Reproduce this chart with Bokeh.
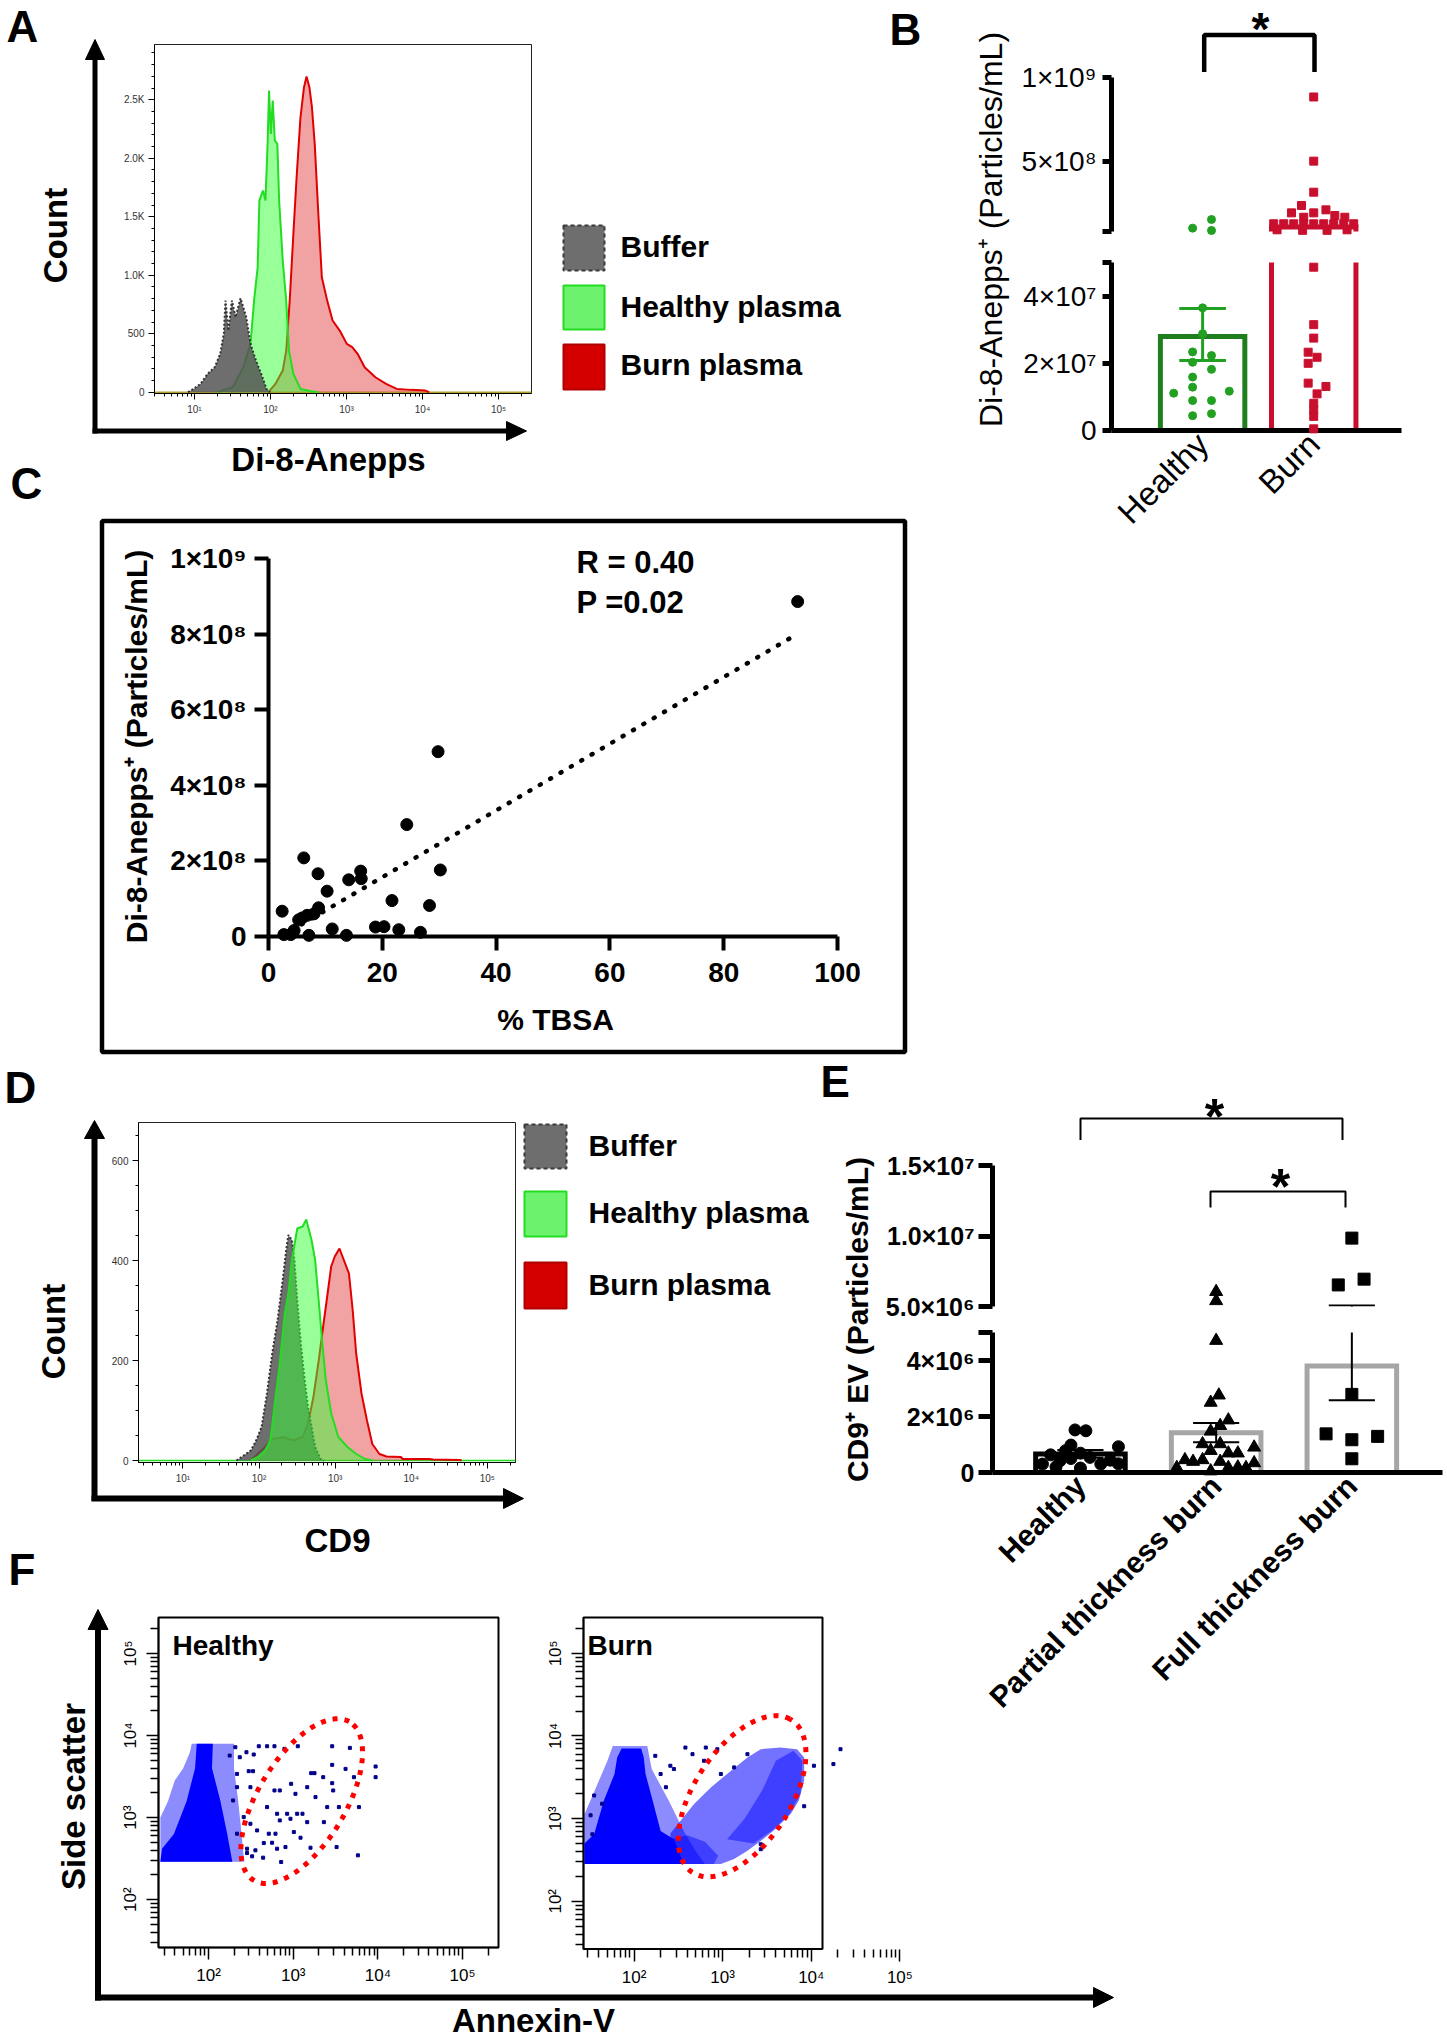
import math
from bokeh.plotting import figure
from bokeh.models import Range1d, FixedTicker
from bokeh.core.properties import value
from bokeh.embed import file_html
from bokeh.resources import INLINE

# ======================= DATA =======================
# A: Di-8-Anepps histograms (fluorescence intensity, event count)
a_buffer_x = [8.22, 9.68, 12.0, 14.9, 18.5, 21.8, 24.3, 25.6, 27.9, 31.1, 34.7, 40.4, 48.0, 54.6, 64.3, 75.5, 88.7, 98.9]
a_buffer_n = [0, 28, 71, 157, 214, 328, 499, 783, 527, 783, 641, 803, 641, 413, 271, 157, 28, 0]
a_healthy_x = [20.0, 23.0, 31.8, 44.0, 54.6, 60.8, 67.8, 71.4, 79.6, 85.9, 91.6, 95.7, 101, 107, 114, 123, 130, 145, 161, 175, 200, 248, 343, 426]
a_healthy_n = [0, 14, 43, 214, 413, 783, 1068, 1638, 1724, 1638, 2123, 2578, 2208, 2493, 2151, 2123, 1638, 1125, 783, 356, 157, 28, 9, 0]
a_burn_x = [93.8, 116, 145, 161, 179, 200, 222, 248, 276, 298, 325, 351, 382, 426, 474, 557, 656, 815, 1010, 1190, 1400, 1730, 2400, 3320, 4590, 7080, 10900, 12200]
a_burn_n = [0, 71, 185, 356, 783, 1353, 1866, 2350, 2607, 2698, 2607, 2436, 2123, 1524, 983, 783, 613, 527, 413, 385, 328, 214, 128, 71, 28, 20, 14, 0]
a_count_ticks = [0, 500, 1000, 1500, 2000, 2500]
a_count_labels = ["0", "500", "1.0K", "1.5K", "2.0K", "2.5K"]

# B: Di-8-Anepps+ particles/mL
b_groups = ["Healthy", "Burn"]
b_mean = [2.80e7, 1.10e8]
b_err_lo = [2.08e7]          # healthy SEM lower end
b_err_hi = [3.63e7]          # healthy SEM upper end
b_healthy_vals = [1.03e8, 1.545e8, 0.89e8, 3.65e7, 2.88e7, 2.34e7, 2.23e7, 2.03e7, 1.82e7, 1.59e7, 1.29e7,
                  1.11e7, 1.17e7, 8.9e6, 8.9e6, 4.4e6, 5.0e6]
b_healthy_jit = [-0.09, 0.08, 0.08, 0.0, 0.0, -0.09, 0.08, -0.09, 0.08, -0.09, -0.09, -0.26, 0.24, -0.09, 0.08, -0.09, 0.08]
b_burn_vals = [8.84e8, 5.02e8, 3.17e8, 2.38e8, 2.12e8, 1.94e8, 1.94e8, 1.78e8, 1.68e8, 1.68e8,
               1.29e8, 1.29e8, 1.29e8, 1.29e8, 1.29e8, 1.29e8, 1.29e8, 1.29e8, 1.29e8,
               0.93e8, 0.90e8, 0.90e8, 0.93e8,
               4.86e7, 3.15e7, 2.75e7, 2.33e7, 2.18e7, 2.00e7, 1.41e7, 1.31e7, 1.09e7, 8.1e6, 6.2e6, 4.2e6, 0.5e6]
b_burn_jit = [0, 0, 0, -0.11, 0.11, -0.20, 0.0, 0.19, 0.28, -0.09,
              -0.36, -0.27, -0.18, -0.09, 0.0, 0.09, 0.18, 0.27, 0.36,
              -0.33, -0.10, 0.12, 0.30,
              0, 0, 0, -0.05, 0.03, -0.05, -0.05, 0.11, 0.03, 0, 0, 0, 0]

# C: correlation with %TBSA
c_tbsa = [93.0, 29.8, 24.3, 30.2, 6.2, 8.7, 14.1, 16.2, 16.3, 10.3, 2.4, 8.8, 8.0, 5.9,
          7.1, 4.5, 11.2, 13.7, 18.8, 20.3, 21.7, 22.9, 26.7, 28.3, 2.7, 5.3, 6.8, 3.9]
c_particles = [8.86e8, 4.89e8, 2.96e8, 1.76e8, 2.08e8, 1.66e8, 1.50e8, 1.73e8, 1.53e8, 1.20e8, 0.67e8, 0.76e8, 0.60e8, 0.49e8,
               0.03e8, 0.16e8, 0.20e8, 0.03e8, 0.25e8, 0.26e8, 0.95e8, 0.18e8, 0.11e8, 0.82e8, 0.05e8, 0.44e8, 0.56e8, 0.05e8]
c_fit_slope = 8.82e6
c_fit_intercept = -1.94e7
c_fit_x = [2.2, 91.8]
c_r_text = "R = 0.40"
c_p_text = "P =0.02"

# D: CD9 histograms
d_buffer_x = [50.6, 62.8, 78.0, 91.6, 108, 127, 149, 175, 207, 230, 243, 270, 292, 318, 354, 394, 440, 490, 546, 643, 714]
d_buffer_n = [0, 10, 20, 40, 67, 134, 214, 280, 367, 427, 451, 441, 401, 320, 234, 167, 107, 67, 27, 3, 0]
d_healthy_x = [78.0, 96.8, 120, 141, 157, 185, 218, 243, 270, 318, 374, 417, 490, 546, 608, 678, 755, 887, 1100, 1450, 1890, 2480, 3080]
d_healthy_n = [0, 7, 20, 40, 100, 187, 294, 334, 401, 464, 468, 482, 441, 401, 320, 234, 160, 94, 47, 27, 13, 3, 0]
d_burn_x = [78.0, 120, 149, 207, 285, 374, 440, 518, 608, 714, 796, 887, 989, 1140, 1300, 1520, 1700, 1890, 2220, 2620,
            3080, 3820, 4740, 7310, 7710, 17300, 19300, 43400, 45900]
d_burn_n = [0, 27, 43, 47, 40, 47, 74, 127, 200, 281, 334, 388, 408, 424, 401, 374, 301, 214, 134, 80,
            33, 13, 8, 7, 3, 3, 2, 1, 0]

# E: CD9+ EV particles/mL
e_groups = ["Healthy", "Partial thickness burn", "Full thickness burn"]
e_mean = [0.66e6, 1.42e6, 3.80e6]
e_err_lo = [0.53e6, 1.08e6, 2.58e6]
e_err_hi = [0.80e6, 1.77e6, 5.07e6]
e_healthy_vals = [1.52e6, 1.49e6, 0.98e6, 0.92e6, 0.78e6, 0.69e6, 0.63e6, 0.54e6, 0.50e6, 0.44e6, 0.42e6, 0.31e6, 0.30e6, 0.30e6, 0.16e6, 0.20e6]
e_healthy_jit = [-0.04, 0.04, -0.07, 0.28, -0.11, 0.0, -0.22, 0.07, -0.07, 0.22, -0.15, 0.28, 0.15, -0.28, 0.0, -0.18]
e_partial_vals = [6.05e6, 5.40e6, 4.71e6, 2.76e6, 2.50e6, 1.87e6, 1.67e6, 1.47e6, 1.02e6, 1.02e6, 0.78e6, 0.69e6,
                  0.69e6, 0.90e6, 0.45e6, 0.39e6, 0.45e6, 0.39e6, 0.34e6, 0.17e6, 0.17e6, 0.19e6, 0.17e6, 0.05e6]
e_partial_jit = [0.0, 0.0, 0.0, 0.02, -0.04, 0.09, 0.03, -0.04, -0.10, 0.03, -0.04, 0.09,
                 0.16, 0.28, -0.23, -0.17, -0.10, 0.03, 0.28, -0.29, 0.09, 0.16, 0.22, -0.04]
e_full_vals = [9.85e6, 6.53e6, 6.94e6, 2.79e6, 1.38e6, 1.17e6, 1.29e6, 0.49e6]
e_full_jit = [0.0, -0.10, 0.09, 0.0, -0.19, 0.0, 0.19, 0.0]

# F: Annexin-V vs side scatter (log10 units)
f_h_core_x = [1.43, 1.45, 1.59, 1.74, 1.84, 1.86, 2.05, 2.04, 2.14, 2.22, 2.28]
f_h_core_y = [2.46, 2.62, 2.80, 3.20, 3.60, 3.90, 3.90, 3.60, 3.20, 2.80, 2.46]
f_h_halo_x = [1.43, 1.43, 1.52, 1.60, 1.70, 1.78, 1.80, 2.30, 2.30, 2.35, 2.38, 2.42]
f_h_halo_y = [2.46, 3.00, 3.20, 3.45, 3.60, 3.80, 3.90, 3.90, 3.60, 3.20, 2.90, 2.46]
f_h_dot_x = [2.316, 2.447, 2.593, 2.691, 2.778, 2.896, 3.054, 3.460, 3.669, 3.973, 3.973, 2.533, 2.336, 2.474, 2.525, 2.336,
             2.494, 2.778, 2.841, 3.026, 2.975, 3.212, 3.251, 3.460, 3.354, 3.165, 3.263, 3.460, 3.472, 3.618, 3.717, 3.401,
             3.539, 3.776, 2.691, 2.809, 2.928, 2.841, 3.046, 3.109, 2.967, 3.165, 3.362, 2.711, 2.790, 3.007, 3.086, 2.652,
             2.750, 2.809, 2.908, 2.454, 2.553, 2.514, 2.644, 2.454, 2.857, 3.204, 3.512, 3.764, 2.368, 2.249, 2.289, 2.336,
             2.415, 2.494, 2.573]
f_h_dot_y = [3.857, 3.796, 3.869, 3.869, 3.869, 3.837, 3.869, 3.869, 3.849, 3.622, 3.492, 3.768, 3.532, 3.565, 3.565, 3.370,
             3.370, 3.330, 3.330, 3.289, 3.411, 3.541, 3.541, 3.642, 3.492, 3.370, 3.249, 3.419, 3.330, 3.593, 3.492, 3.127,
             3.127, 3.127, 3.127, 3.046, 3.046, 2.965, 3.046, 3.046, 2.985, 2.944, 2.944, 2.803, 2.803, 2.823, 2.754, 2.689,
             2.693, 2.620, 2.640, 2.620, 2.600, 2.527, 2.511, 2.567, 2.458, 2.632, 2.640, 2.539, 3.735, 3.755, 3.208, 2.803,
             3.005, 2.924, 2.843]
f_b_core_x = [1.44, 1.44, 1.55, 1.66, 1.78, 1.81, 1.86, 2.08, 2.11, 2.13, 2.21, 2.30, 2.45, 2.56]
f_b_core_y = [2.45, 2.70, 2.81, 3.22, 3.54, 3.74, 3.85, 3.85, 3.74, 3.54, 3.22, 2.85, 2.75, 2.45]
f_b_halo_x = [1.44, 1.44, 1.52, 1.60, 1.70, 1.76, 2.15, 2.20, 2.30, 2.40, 2.56, 2.70, 2.80]
f_b_halo_y = [2.45, 3.05, 3.25, 3.45, 3.70, 3.88, 3.88, 3.60, 3.40, 3.20, 2.85, 2.60, 2.45]
f_b_pop_x = [2.41, 2.41, 2.53, 2.68, 2.87, 3.05, 3.28, 3.43, 3.65, 3.84, 3.92, 3.92, 3.86, 3.77, 3.58, 3.43, 3.28, 3.13, 2.98]
f_b_pop_y = [2.45, 2.82, 2.98, 3.18, 3.38, 3.54, 3.74, 3.84, 3.86, 3.84, 3.74, 3.46, 3.22, 3.06, 2.86, 2.73, 2.61, 2.51, 2.45]
f_b_dense_x = [3.05, 3.25, 3.45, 3.60, 3.80, 3.90, 3.88, 3.75, 3.55, 3.35]
f_b_dense_y = [2.75, 3.00, 3.35, 3.70, 3.82, 3.70, 3.30, 3.05, 2.85, 2.70]
f_b_dense2_x = [2.41, 2.41, 2.60, 2.80, 2.95, 2.90, 2.70]
f_b_dense2_y = [2.45, 2.75, 2.80, 2.72, 2.55, 2.45, 2.45]
f_b_dot_x = [4.33, 4.25, 3.92, 4.03, 2.58, 2.81, 2.45, 2.36, 2.66, 2.94, 3.13, 2.98, 3.28, 2.79, 3.43, 3.43, 2.24, 2.41, 2.30, 1.55, 1.64, 1.51, 1.53]
f_b_dot_y = [3.84, 3.66, 3.15, 3.64, 3.86, 3.86, 3.60, 3.38, 3.78, 3.84, 3.62, 3.54, 3.78, 3.70, 2.69, 2.63, 3.76, 3.64, 3.54, 3.28, 3.18, 3.04, 2.81]
f_h_gate = (3.10, 3.20, 1.12, 0.52, 60.0)   # centre x, centre y, semi-axes, angle (log10 units)
f_b_gate = (3.22, 3.27, 1.08, 0.55, 60.0)

POW = {10: "10¹", 100: "10²", 1000: "10³", 10000: "10⁴", 100000: "10⁵"}

# ======================= STYLE / LAYOUT =======================
FONT = "Liberation Sans"
W, H = 1446, 2038
HEALTHY_FILL, HEALTHY_LINE = "#33ff33", "#22dd22"
BURN_FILL, BURN_LINE = "#e03030", "#e00000"
BUF_FILL, BUF_LINE = "#555555", "#333333"
DECADES = [10, 100, 1000, 10000, 100000]
MINOR_LOG = [m * 10 ** k for k in range(0, 6) for m in range(2, 10)]
POS = {"position": "absolute", "left": "0px", "top": "0px"}


def panel(L, T, R, B, xr, yr, xt="linear", yt="linear"):
    p = figure(width=W, height=H, x_range=xr, y_range=yr, x_axis_type=xt, y_axis_type=yt,
               output_backend="svg", toolbar_location=None, styles=POS,
               min_border_left=int(round(L)), min_border_right=int(round(W - R)),
               min_border_top=int(round(T)), min_border_bottom=int(round(H - B)))
    p.background_fill_color = None
    p.border_fill_color = None
    p.outline_line_color = None
    p.xgrid.visible = False
    p.ygrid.visible = False
    return p


def style_axis(ax, size, bold=False, lw=1.0, tout=6, mout=3, standoff=4, color="black", orient=None):
    ax.axis_line_color = "black"
    ax.axis_line_width = lw
    ax.major_tick_line_color = "black"
    ax.major_tick_line_width = lw
    ax.minor_tick_line_color = "black"
    ax.minor_tick_line_width = lw
    ax.major_tick_in = 0
    ax.major_tick_out = tout
    ax.minor_tick_in = 0
    ax.minor_tick_out = mout
    ax.major_label_text_font = FONT
    ax.major_label_text_font_size = f"{size}px"
    ax.major_label_text_font_style = "bold" if bold else "normal"
    ax.major_label_text_color = color
    ax.major_label_standoff = standoff
    if orient is not None:
        ax.major_label_orientation = orient


def hist(p, x, n, fill, alpha, line, dash="solid"):
    p.varea(x=x, y1=0, y2=n, fill_color=fill, fill_alpha=alpha)
    p.line(x, n, line_color=line, line_width=2, line_dash=dash)


def bar_outlines(p, xs, tops, width, colors, lw, lo):
    X, Y, C = [], [], []
    for x, t, c in zip(xs, tops, colors):
        if t > lo:
            X.append([x - width / 2, x - width / 2, x + width / 2, x + width / 2])
            Y.append([0, t, t, 0])
            C.append(c)
    if X:
        p.multi_line(X, Y, line_color=C, line_width=lw, line_join="miter")


figs = []

# ---------- decorations (page-pixel overlay) ----------
pd = figure(width=W, height=H, x_range=Range1d(0, W), y_range=Range1d(H, 0),
            output_backend="svg", toolbar_location=None, x_axis_location=None, y_axis_location=None,
            min_border_left=0, min_border_right=0, min_border_top=0, min_border_bottom=0, styles=POS)
pd.background_fill_color = None
pd.border_fill_color = None
pd.outline_line_color = None
pd.grid.visible = False
figs.append(pd)

# ---------- A ----------
a_xr = Range1d(10 ** 0.474, 10 ** 5.434)
pA = panel(154, 44, 531, 393, a_xr, Range1d(-11, 2972), xt="log")
pA.outline_line_color = "#222222"
pA.xaxis.ticker = FixedTicker(ticks=DECADES, minor_ticks=MINOR_LOG)
pA.xaxis.major_label_overrides = POW
pA.yaxis.ticker = FixedTicker(ticks=a_count_ticks, minor_ticks=list(range(100, 3000, 100)))
pA.yaxis.major_label_overrides = dict(zip(a_count_ticks, a_count_labels))
style_axis(pA.xaxis, 10, color="#333333")
style_axis(pA.yaxis, 10, color="#333333")
pA.line([a_xr.start, a_xr.end], [0, 0], line_color="#b0a030", line_width=1.5)
hist(pA, a_burn_x, a_burn_n, BURN_FILL, 0.45, BURN_LINE)
hist(pA, a_healthy_x, a_healthy_n, HEALTHY_FILL, 0.5, HEALTHY_LINE)
hist(pA, a_buffer_x, a_buffer_n, BUF_FILL, 0.85, BUF_LINE, "2 2")
figs.append(pA)

# ---------- B (broken y axis: two stacked frames) ----------
b_xr = Range1d(-0.82, 1.79)
pBu = panel(1111, 77, 1401, 231, b_xr, Range1d(8.3e7, 1e9))
pBl = panel(1111, 262, 1401, 430, b_xr, Range1d(0, 5e7))
B_GREEN_BAR, B_GREEN, B_RED = "#1f7f1f", "#22a022", "#c8102e"
for p, lo, hi in ((pBu, 8.3e7, 1e9), (pBl, 0, 5e7)):
    bar_outlines(p, [0, 1], b_mean, 0.76, [B_GREEN_BAR, B_RED], 5, lo)
    hx = [j for v, j in zip(b_healthy_vals, b_healthy_jit) if lo <= v <= hi]
    hy = [v for v in b_healthy_vals if lo <= v <= hi]
    p.scatter(hx, hy, size=8, color=B_GREEN, level="overlay")
    bx = [1 + j for v, j in zip(b_burn_vals, b_burn_jit) if lo <= v <= hi]
    by = [v for v in b_burn_vals if lo <= v <= hi]
    p.scatter(bx, by, marker="square", size=8, color=B_RED, level="overlay")
pBl.segment(x0=[0], y0=b_err_lo, x1=[0], y1=b_err_hi, line_color=B_GREEN, line_width=3)
pBl.segment(x0=[-0.21, -0.21], y0=[b_err_lo[0], b_err_hi[0]], x1=[0.21, 0.21], y1=[b_err_lo[0], b_err_hi[0]],
            line_color=B_GREEN, line_width=3)
pBu.xaxis.visible = False
pBu.yaxis.ticker = FixedTicker(ticks=[8.3e7, 5e8, 1e9])
pBu.yaxis.major_label_overrides = {8.3e7: "", 5e8: "5×10⁸", 1e9: "1×10⁹"}
pBl.yaxis.ticker = FixedTicker(ticks=[0, 2e7, 4e7, 5e7])
pBl.yaxis.major_label_overrides = {0: "0", 2e7: "2×10⁷", 4e7: "4×10⁷", 5e7: ""}
pBl.xaxis.ticker = FixedTicker(ticks=[0, 1])
pBl.xaxis.major_label_overrides = {0: b_groups[0], 1: b_groups[1]}
for p in (pBu, pBl):
    style_axis(p.yaxis, 28, lw=5, tout=9, standoff=6)
style_axis(pBl.xaxis, 33, lw=5, tout=0, standoff=8, orient=math.pi / 4)
figs += [pBu, pBl]

# ---------- C ----------
pC = panel(268, 558, 837, 936, Range1d(0, 100), Range1d(0, 1e9))
pC.xaxis.ticker = FixedTicker(ticks=[0, 20, 40, 60, 80, 100])
pC.yaxis.ticker = FixedTicker(ticks=[0, 2e8, 4e8, 6e8, 8e8, 1e9])
pC.yaxis.major_label_overrides = {0: "0", 2e8: "2×10⁸", 4e8: "4×10⁸", 6e8: "6×10⁸", 8e8: "8×10⁸", 1e9: "1×10⁹"}
style_axis(pC.xaxis, 28, bold=True, lw=4, tout=14, standoff=12)
style_axis(pC.yaxis, 28, bold=True, lw=4, tout=14, standoff=8)
pC.line(c_fit_x, [c_fit_intercept + c_fit_slope * x for x in c_fit_x], line_color="black", line_width=4.5,
        line_dash="1 11", line_cap="round")
pC.scatter(c_tbsa, c_particles, size=12, color="black", level="overlay")
figs.append(pC)

# ---------- D ----------
d_xr = Range1d(10 ** 0.416, 10 ** 5.37)
pD = panel(137.5, 1122, 515, 1462, d_xr, Range1d(-4, 676), xt="log")
pD.outline_line_color = "#222222"
pD.xaxis.ticker = FixedTicker(ticks=DECADES, minor_ticks=MINOR_LOG)
pD.xaxis.major_label_overrides = POW
pD.yaxis.ticker = FixedTicker(ticks=[0, 200, 400, 600], minor_ticks=list(range(50, 700, 50)))
style_axis(pD.xaxis, 10, color="#333333")
style_axis(pD.yaxis, 10, color="#333333")
pD.line([d_xr.start, d_xr.end], [0, 0], line_color=HEALTHY_LINE, line_width=1.5)
hist(pD, d_burn_x, d_burn_n, BURN_FILL, 0.45, BURN_LINE)
hist(pD, d_buffer_x, d_buffer_n, BUF_FILL, 0.85, BUF_LINE, "2 2")
hist(pD, d_healthy_x, d_healthy_n, HEALTHY_FILL, 0.5, HEALTHY_LINE)
figs.append(pD)

# ---------- E (broken y axis) ----------
e_xr = Range1d(-0.648, 2.668)
pEu = panel(992, 1165, 1442, 1305.5, e_xr, Range1d(5e6, 1.5e7))
pEl = panel(992, 1332, 1442, 1472, e_xr, Range1d(0, 5e6))
E_GRAY = "#a6a6a6"
markers = [("circle", e_healthy_vals, e_healthy_jit, 12), ("triangle", e_partial_vals, e_partial_jit, 13),
           ("square", e_full_vals, e_full_jit, 12)]
for p, lo, hi in ((pEu, 5e6, 1.5e7), (pEl, 0, 5e6)):
    bar_outlines(p, [0, 1, 2], e_mean, 0.66, ["black", E_GRAY, E_GRAY], 5, lo)
    vx = [i for i in range(3) if e_err_hi[i] > lo]
    if vx:
        p.segment(x0=vx, y0=[e_err_lo[i] for i in vx], x1=vx, y1=[e_err_hi[i] for i in vx],
                  line_color="black", line_width=2)
    caps = [(i, v) for i in range(3) for v in (e_err_lo[i], e_err_hi[i]) if lo <= v <= hi]
    p.segment(x0=[i - 0.17 for i, v in caps], y0=[v for i, v in caps], x1=[i + 0.17 for i, v in caps],
              y1=[v for i, v in caps], line_color="black", line_width=2)
    for gi, (mk, vals, jit, sz) in enumerate(markers):
        xs = [gi + j for v, j in zip(vals, jit) if lo <= v <= hi]
        ys = [v for v in vals if lo <= v <= hi]
        p.scatter(xs, ys, marker=mk, size=sz, color="black", level="overlay")
pEu.xaxis.visible = False
pEu.yaxis.ticker = FixedTicker(ticks=[5e6, 1e7, 1.5e7])
pEu.yaxis.major_label_overrides = {5e6: "5.0×10⁶", 1e7: "1.0×10⁷", 1.5e7: "1.5×10⁷"}
pEl.yaxis.ticker = FixedTicker(ticks=[0, 2e6, 4e6, 5e6])
pEl.yaxis.major_label_overrides = {0: "0", 2e6: "2×10⁶", 4e6: "4×10⁶", 5e6: ""}
pEl.xaxis.ticker = FixedTicker(ticks=[0, 1, 2])
pEl.xaxis.major_label_overrides = {i: g for i, g in enumerate(e_groups)}
for p in (pEu, pEl):
    style_axis(p.yaxis, 25, bold=True, lw=5, tout=14, standoff=4)
style_axis(pEl.xaxis, 30, bold=True, lw=5, tout=0, standoff=8, orient=math.pi / 4)
figs += [pEu, pEl]


# ---------- F ----------
def ellipse(cx, cy, a, b, ang, n=120):
    t = [2 * math.pi * i / n for i in range(n + 1)]
    r = math.radians(ang)
    xs = [10 ** (cx + a * math.cos(s) * math.cos(r) - b * math.sin(s) * math.sin(r)) for s in t]
    ys = [10 ** (cy + a * math.cos(s) * math.sin(r) + b * math.sin(s) * math.cos(r)) for s in t]
    return xs, ys


def lg(v):
    return [10 ** u for u in v]


pFl = panel(158.3, 1616.7, 497.7, 1947.3, Range1d(10 ** 1.408, 10 ** 5.425), Range1d(10 ** 1.416, 10 ** 5.438),
            xt="log", yt="log")
pFl.outline_line_color = "black"
pFl.outline_line_width = 2
pFr = panel(582.7, 1616.7, 900, 1949, Range1d(10 ** 1.430, 10 ** 5.007), Range1d(10 ** 1.416, 10 ** 5.434),
            xt="log", yt="log")
for p in (pFl, pFr):
    p.xaxis.ticker = FixedTicker(ticks=DECADES[1:], minor_ticks=MINOR_LOG)
    p.xaxis.major_label_overrides = POW
    p.yaxis.ticker = FixedTicker(ticks=DECADES[1:], minor_ticks=MINOR_LOG)
    p.yaxis.major_label_overrides = POW
    style_axis(p.xaxis, 17, lw=1.5, tout=12, mout=8, standoff=6)
    style_axis(p.yaxis, 17, lw=1.5, tout=12, mout=8, standoff=6, orient="vertical")
pFr.xaxis.axis_line_color = None

BLUE, NAVY = "#0000ff", "#00008b"
pFl.patch(lg(f_h_halo_x), lg(f_h_halo_y), fill_color=BLUE, fill_alpha=0.45, line_color=None)
pFl.patch(lg(f_h_core_x), lg(f_h_core_y), fill_color=BLUE, line_color=None)
pFl.scatter(lg(f_h_dot_x), lg(f_h_dot_y), marker="square", size=3, color=NAVY)
gx, gy = ellipse(*f_h_gate)
pFl.line(gx, gy, line_color="#ff0000", line_width=5, line_dash="5 7")

pFr.patch(lg(f_b_halo_x), lg(f_b_halo_y), fill_color=BLUE, fill_alpha=0.45, line_color=None)
pFr.patch(lg(f_b_core_x), lg(f_b_core_y), fill_color=BLUE, line_color=None)
pFr.patch(lg(f_b_pop_x), lg(f_b_pop_y), fill_color=BLUE, fill_alpha=0.55, line_color=None)
pFr.patch(lg(f_b_dense_x), lg(f_b_dense_y), fill_color=BLUE, fill_alpha=0.45, line_color=None)
pFr.patch(lg(f_b_dense2_x), lg(f_b_dense2_y), fill_color=BLUE, fill_alpha=0.45, line_color=None)
pFr.scatter(lg(f_b_dot_x), lg(f_b_dot_y), marker="square", size=3, color=NAVY)
gx, gy = ellipse(*f_b_gate)
pFr.line(gx, gy, line_color="#ff0000", line_width=5, line_dash="5 7")
figs += [pFl, pFr]


# ---------- decoration helpers ----------
def txt(x, y, s, size, bold=True, align="left", angle=0.0):
    pd.text(x=[x], y=[y], text=[s], text_font=value(FONT), text_font_size=f"{size}px",
            text_font_style="bold" if bold else "normal", text_align=align, text_baseline="middle",
            angle=angle, text_color="black")


def v_arrow(x, y_tip, y_end, lw, hl, hw):
    pd.segment(x0=[x], y0=[y_end], x1=[x], y1=[y_tip + hl - 1], line_width=lw, line_color="black")
    pd.patch([x - hw, x + hw, x], [y_tip + hl, y_tip + hl, y_tip], fill_color="black", line_color="black")


def h_arrow(y, x_start, x_tip, lw, hl, hw):
    pd.segment(x0=[x_start], y0=[y], x1=[x_tip - hl + 1], y1=[y], line_width=lw, line_color="black")
    pd.patch([x_tip - hl, x_tip - hl, x_tip], [y - hw, y + hw, y], fill_color="black", line_color="black")


def legend(x0, x1, boxes, tx, centers):
    styles = [("#6e6e6e", "#3a3a3a", "4 3"), ("#6cf26c", "#22dd22", "solid"), ("#d40000", "#b00000", "solid")]
    for (t, b), (fc, lc, dash) in zip(boxes, styles):
        pd.quad(left=[x0], right=[x1], top=[t], bottom=[b], fill_color=fc, line_color=lc, line_width=2, line_dash=dash)
    for s, yc in zip(["Buffer", "Healthy plasma", "Burn plasma"], centers):
        txt(tx, yc, s, 30)


for s, x, y in (("A", 6, 26), ("B", 889, 29), ("C", 10, 483), ("D", 4, 1087), ("E", 820, 1081), ("F", 8, 1569)):
    txt(x, y, s, 44)

# A
v_arrow(94.5, 39, 433, 5, 20, 9.5)
h_arrow(430.5, 92, 526, 5, 20, 9.5)
txt(55, 235, "Count", 33, align="center", angle=math.pi / 2)
txt(328, 459, "Di-8-Anepps", 33, align="center")
legend(563, 604, [(225, 270), (285, 329), (344, 389)], 620, [246, 306, 364])

# B
pd.line([1203.7, 1203.7, 1314, 1314], [71.4, 34.6, 34.6, 71.4], line_width=4.5, line_color="black")
txt(1260, 28, "*", 46, align="center")
txt(990, 229, "Di-8-Anepps⁺ (Particles/mL)", 32, bold=False, align="center", angle=math.pi / 2)

# C
pd.quad(left=[101.5], right=[904.5], top=[520.5], bottom=[1051.5], fill_color=None, line_color="black", line_width=4.5)
txt(136, 746, "Di-8-Anepps⁺ (Particles/mL)", 30, align="center", angle=math.pi / 2)
txt(555, 1019, "% TBSA", 30, align="center")
txt(576, 562, c_r_text, 31)
txt(576, 602, c_p_text, 31)

# D
v_arrow(94, 1120, 1500.5, 6, 18, 10)
h_arrow(1498, 91, 523, 6, 20, 10)
txt(53, 1331, "Count", 33, align="center", angle=math.pi / 2)
txt(337, 1540, "CD9", 33, align="center")
legend(524, 566, [(1124, 1168), (1191, 1236), (1262, 1308)], 588, [1145, 1212, 1284])

# E
pd.line([1080, 1080, 1342, 1342], [1139.5, 1118, 1118, 1139.5], line_width=2, line_color="black")
pd.line([1210, 1210, 1345, 1345], [1207, 1191, 1191, 1207], line_width=2, line_color="black")
txt(1214, 1116, "*", 50, align="center")
txt(1280, 1186, "*", 50, align="center")
txt(857, 1319, "CD9⁺ EV (Particles/mL)", 30, align="center", angle=math.pi / 2)

# F
v_arrow(97.5, 1609, 2000, 6, 20, 10)
h_arrow(1997, 94.5, 1113, 6, 20, 10)
pd.quad(left=[583], right=[822], top=[1617], bottom=[1948.5], fill_color=None, line_color="black", line_width=2)
txt(72.7, 1796, "Side scatter", 33, align="center", angle=math.pi / 2)
txt(533, 2020, "Annexin-V", 33, align="center")
txt(172, 1645, "Healthy", 28)
txt(587, 1645, "Burn", 28)

open("out.html", "w").write(file_html(figs, INLINE))
